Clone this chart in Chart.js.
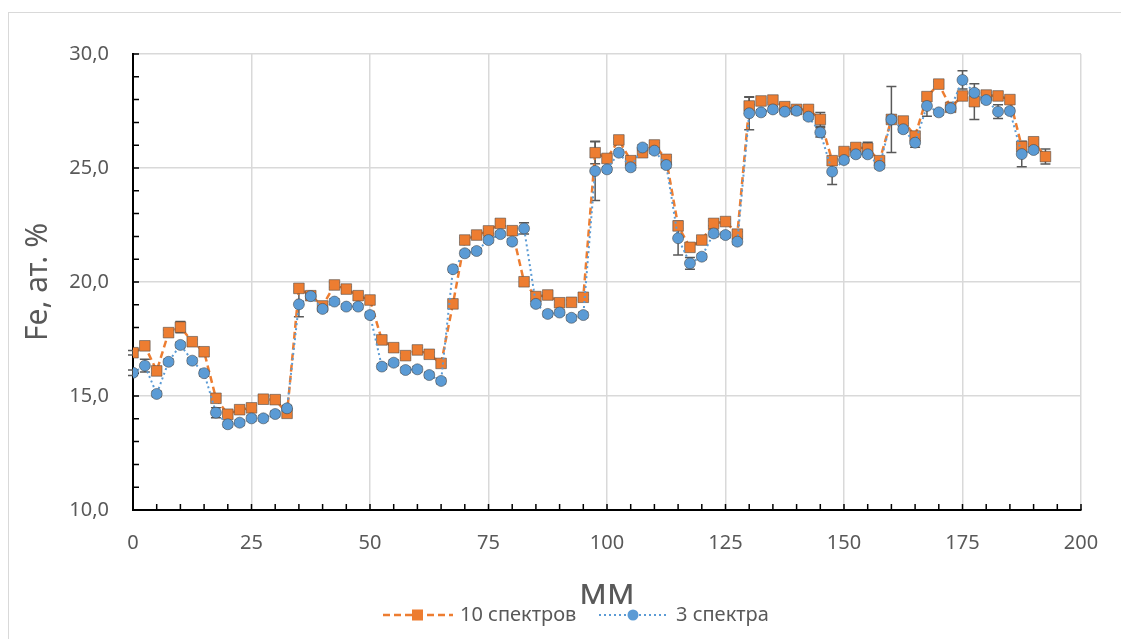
<!DOCTYPE html>
<html>
<head>
<meta charset="utf-8">
<script src="https://cdn.jsdelivr.net/npm/chart.js@4"></script>
<style>
  html, body { margin: 0; padding: 0; background: #fff; overflow: hidden; }
  #wrap { position: relative; width: 1121px; height: 639px; }
  #frame { position: absolute; left: 8px; top: 12px; width: 1200px; height: 700px;
           border: 1.5px solid #d9d9d9; pointer-events: none; }
</style>
</head>
<body>
<div id="wrap">
  <canvas id="chart"></canvas>
  <div id="frame"></div>
</div>
<script>
// positions along the sample, mm
const mm = [0, 2.5, 5, 7.5, 10, 12.5, 15, 17.5, 20, 22.5, 25, 27.5, 30, 32.5, 35, 37.5, 40, 42.5, 45, 47.5,
    50, 52.5, 55, 57.5, 60, 62.5, 65, 67.5, 70, 72.5, 75, 77.5, 80, 82.5, 85, 87.5, 90, 92.5, 95, 97.5,
    100, 102.5, 105, 107.5, 110, 112.5, 115, 117.5, 120, 122.5, 125, 127.5, 130, 132.5, 135, 137.5, 140, 142.5, 145, 147.5,
    150, 152.5, 155, 157.5, 160, 162.5, 165, 167.5, 170, 172.5, 175, 177.5, 180, 182.5, 185, 187.5, 190, 192.5];

// Fe, at.% - 10 spectra
const fe10 = [16.90, 17.20, 16.10, 17.78, 18.02, 17.38, 16.94, 14.90, 14.20, 14.40,
    14.48, 14.86, 14.84, 14.24, 19.72, 19.40, 18.95, 19.87, 19.69, 19.40,
    19.21, 17.46, 17.12, 16.77, 17.02, 16.83, 16.43, 19.04, 21.84, 22.06,
    22.24, 22.57, 22.25, 20.01, 19.36, 19.43, 19.09, 19.11, 19.33, 25.67,
    25.42, 26.23, 25.32, 25.67, 26.01, 25.38, 22.46, 21.52, 21.84, 22.57,
    22.65, 22.10, 27.72, 27.94, 27.98, 27.69, 27.57, 27.57, 27.13, 25.32,
    25.72, 25.90, 25.86, 25.32, 27.13, 27.06, 26.40, 28.13, 28.68, 27.66,
    28.16, 27.91, 28.20, 28.16, 28.00, 25.94, 26.15, 25.50];

// Fe, at.% - 3 spectra
const fe3 = [16.02, 16.33, 15.09, 16.50, 17.24, 16.55, 16.00, 14.27, 13.76, 13.83,
    14.02, 14.02, 14.21, 14.46, 19.02, 19.38, 18.82, 19.14, 18.92, 18.92,
    18.55, 16.29, 16.46, 16.14, 16.17, 15.92, 15.66, 20.56, 21.26, 21.36,
    21.84, 22.10, 21.77, 22.35, 19.04, 18.60, 18.66, 18.43, 18.55, 24.87,
    24.94, 25.67, 25.03, 25.90, 25.76, 25.13, 21.92, 20.82, 21.11, 22.13,
    22.06, 21.77, 27.40, 27.44, 27.57, 27.47, 27.51, 27.25, 26.56, 24.84,
    25.35, 25.60, 25.60, 25.09, 27.13, 26.70, 26.11, 27.72, 27.44, 27.62,
    28.86, 28.30, 27.98, 27.47, 27.50, 25.61, 25.79, null];

// error bar half-widths
const err10 = [0.1, 0.1, 0.1, 0.1, 0.25, 0.1, 0.1, 0.1, 0.1, 0.1,
    0.1, 0.1, 0.1, 0.1, 0.1, 0.1, 0.1, 0.1, 0.1, 0.1,
    0.1, 0.1, 0.1, 0.1, 0.1, 0.1, 0.1, 0.1, 0.1, 0.1,
    0.1, 0.1, 0.1, 0.1, 0.1, 0.1, 0.1, 0.1, 0.1, 0.48,
    0.15, 0.1, 0.1, 0.1, 0.1, 0.1, 0.1, 0.1, 0.1, 0.1,
    0.1, 0.1, 0.38, 0.1, 0.1, 0.1, 0.1, 0.1, 0.3, 0.1,
    0.1, 0.1, 0.27, 0.1, 0.1, 0.1, 0.1, 0.1, 0.1, 0.1,
    0.1, 0.78, 0.1, 0.1, 0.1, 0.1, 0.1, 0.33];

const err3 = [0.12, 0.28, 0.12, 0.12, 0.12, 0.12, 0.12, 0.22, 0.12, 0.12,
    0.12, 0.12, 0.12, 0.12, 0.54, 0.12, 0.12, 0.12, 0.12, 0.12,
    0.12, 0.12, 0.12, 0.12, 0.12, 0.12, 0.12, 0.12, 0.12, 0.12,
    0.12, 0.12, 0.12, 0.25, 0.12, 0.12, 0.12, 0.12, 0.12, 1.3,
    0.12, 0.12, 0.12, 0.12, 0.12, 0.12, 0.74, 0.26, 0.12, 0.15,
    0.12, 0.12, 0.72, 0.12, 0.12, 0.12, 0.12, 0.12, 0.2, 0.56,
    0.12, 0.12, 0.12, 0.12, 1.45, 0.12, 0.2, 0.45, 0.12, 0.12,
    0.4, 0.12, 0.12, 0.3, 0.12, 0.56, 0.12, 0];

const seriesNames = ['10 спектров', '3 спектра'];
const xTitle = 'мм';
const yTitle = 'Fe, ат. %';

const ORANGE = '#ed7d31';
const BLUE = '#5b9bd5';
const TEXT = '#595959';
const FONT = "'Noto Sans', sans-serif";

function points(values) {
    return mm.map((x, i) => ({ x: x, y: values[i] }));
}

// error bars, drawn under the markers
const errorBars = {
    id: 'errorBars',
    beforeDatasetsDraw(chart) {
        const ctx = chart.ctx;
        const xs = chart.scales.x, ys = chart.scales.y;
        ctx.save();
        ctx.strokeStyle = '#595959';
        ctx.lineWidth = 1.5;
        chart.data.datasets.forEach(ds => {
            ds.data.forEach((p, i) => {
                if (p.y == null || !ds.errors[i]) return;
                const px = xs.getPixelForValue(p.x);
                const top = ys.getPixelForValue(p.y + ds.errors[i]);
                const bot = ys.getPixelForValue(p.y - ds.errors[i]);
                ctx.beginPath();
                ctx.moveTo(px, top); ctx.lineTo(px, bot);
                ctx.moveTo(px - 5, top); ctx.lineTo(px + 5, top);
                ctx.moveTo(px - 5, bot); ctx.lineTo(px + 5, bot);
                ctx.stroke();
            });
        });
        ctx.restore();
    }
};

// small tick marks on the inner side of both axes
const minorTicks = {
    id: 'minorTicks',
    beforeDatasetsDraw(chart) {
        const ctx = chart.ctx;
        const xs = chart.scales.x, ys = chart.scales.y;
        const area = chart.chartArea;
        ctx.save();
        ctx.strokeStyle = '#000';
        ctx.lineWidth = 1.5;
        ctx.beginPath();
        for (let v = ys.min; v <= ys.max; v += 1) {
            const py = ys.getPixelForValue(v);
            ctx.moveTo(area.left, py); ctx.lineTo(area.left + 6, py);
        }
        for (let v = xs.min + 5; v <= xs.max; v += 5) {
            const px = xs.getPixelForValue(v);
            ctx.moveTo(px, area.bottom); ctx.lineTo(px, area.bottom - 6);
        }
        ctx.stroke();
        ctx.restore();
    }
};

// legend with line + marker samples
const lineLegend = {
    id: 'lineLegend',
    afterDraw(chart) {
        const ctx = chart.ctx;
        const y = 615;
        ctx.save();
        ctx.font = '20px ' + FONT;
        ctx.fillStyle = TEXT;
        ctx.textBaseline = 'middle';
        ctx.textAlign = 'left';

        // 10 спектров
        ctx.strokeStyle = ORANGE;
        ctx.lineWidth = 2.5;
        ctx.setLineDash([7, 4]);
        ctx.beginPath(); ctx.moveTo(383, y); ctx.lineTo(453, y); ctx.stroke();
        ctx.setLineDash([]);
        ctx.fillStyle = ORANGE;
        ctx.fillRect(412, y - 5.5, 11, 11);
        ctx.fillStyle = TEXT;
        ctx.fillText(seriesNames[0], 460, y);

        // 3 спектра
        ctx.strokeStyle = BLUE;
        ctx.lineWidth = 2;
        ctx.setLineDash([2, 3]);
        ctx.beginPath(); ctx.moveTo(599, y); ctx.lineTo(666, y); ctx.stroke();
        ctx.setLineDash([]);
        ctx.fillStyle = BLUE;
        ctx.beginPath(); ctx.arc(633, y, 5.5, 0, Math.PI * 2); ctx.fill();
        ctx.fillStyle = TEXT;
        ctx.fillText(seriesNames[1], 676, y);
        ctx.restore();
    }
};

new Chart(document.getElementById('chart'), {
    type: 'line',
    data: {
        datasets: [{
            label: seriesNames[0],
            data: points(fe10),
            errors: err10,
            order: 1,
            borderColor: ORANGE,
            borderWidth: 2.5,
            borderDash: [7, 4],
            pointStyle: 'rect',
            pointRadius: 7.5,
            pointHoverRadius: 7.5,
            pointBackgroundColor: ORANGE,
            pointBorderColor: 'rgba(70,70,70,0.55)',
            pointBorderWidth: 1,
            tension: 0
        }, {
            label: seriesNames[1],
            data: points(fe3),
            errors: err3,
            order: 0,
            borderColor: BLUE,
            borderWidth: 2,
            borderDash: [2, 3],
            pointStyle: 'circle',
            pointRadius: 5.5,
            pointHoverRadius: 5.5,
            pointBackgroundColor: BLUE,
            pointBorderColor: 'rgba(70,70,70,0.55)',
            pointBorderWidth: 1,
            tension: 0
        }]
    },
    options: {
        responsive: true,
        maintainAspectRatio: false,
        animation: false,
        layout: { padding: { left: 20, top: 54, right: 40, bottom: 0 } },
        plugins: {
            legend: { display: false },
            tooltip: { enabled: false }
        },
        scales: {
            x: {
                type: 'linear',
                min: 0,
                max: 200,
                afterFit: scale => { scale.height = 129; },
                ticks: { stepSize: 25, color: TEXT, padding: 21, font: { family: FONT, size: 20 } },
                grid: { color: '#d9d9d9', lineWidth: 1.5, drawTicks: false },
                border: { color: '#000', width: 2 },
                title: {
                    display: true, text: xTitle, color: TEXT,
                    font: { family: FONT, size: 36 },
                    padding: { top: 0, bottom: 24 }
                }
            },
            y: {
                min: 10,
                max: 30,
                afterFit: scale => { scale.width = 113; },
                ticks: {
                    stepSize: 5, color: TEXT, padding: 24,
                    font: { family: FONT, size: 20 },
                    callback: v => v.toFixed(1).replace('.', ',')
                },
                grid: { color: '#d9d9d9', lineWidth: 1.5, drawTicks: false },
                border: { color: '#000', width: 2 },
                title: {
                    display: true, text: yTitle, color: TEXT,
                    font: { family: FONT, size: 30 },
                    padding: { top: 0, bottom: 0 }
                }
            }
        }
    },
    plugins: [errorBars, minorTicks, lineLegend]
});
</script>
</body>
</html>
